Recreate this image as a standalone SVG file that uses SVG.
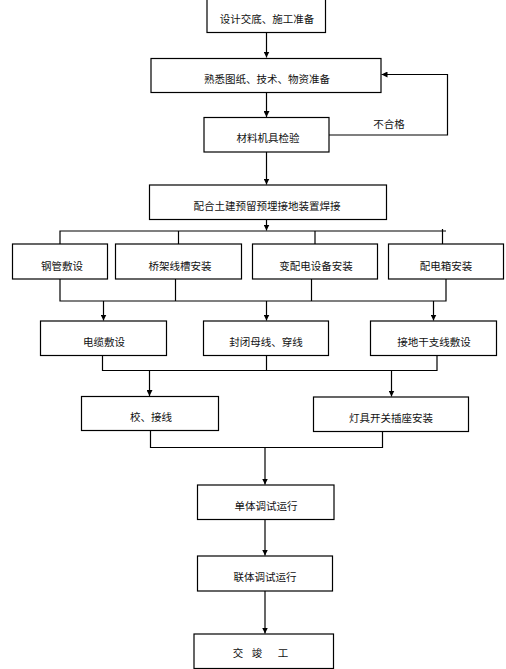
<svg xmlns="http://www.w3.org/2000/svg" width="506" height="669" viewBox="0 0 506 669">
<style>
.box{fill:#fff;stroke:#000;stroke-width:1.2}
.ln{fill:none;stroke:#000;stroke-width:1.2}
text{font-family:"Noto Sans CJK SC","Liberation Sans",sans-serif;font-size:10.5px;fill:#111;text-anchor:middle;dominant-baseline:central}
</style>
<defs>
<marker id="ah" viewBox="0 0 8 8" refX="8" refY="4" markerWidth="6" markerHeight="6" orient="auto" markerUnits="userSpaceOnUse">
<path d="M0,0 L8,4 L0,8 Z" fill="#000"/>
</marker>
</defs>
<rect width="506" height="669" fill="#fff"/>
<g id="connectors">
<path class="ln" d="M266.5,32.5 V57.5" marker-end="url(#ah)"/>
<path class="ln" d="M266.5,92.5 V117" marker-end="url(#ah)"/>
<path class="ln" d="M329,135 H447.5 V74.5 H381.5" marker-end="url(#ah)"/>
<path class="ln" d="M266.5,152 V184.5" marker-end="url(#ah)"/>
<path class="ln" d="M266.5,219.5 V230.5" marker-end="url(#ah)"/>
<path class="ln" d="M60,244 V231 H446"/>
<path class="ln" d="M178.5,231 V244"/>
<path class="ln" d="M315,231 V244"/>
<path class="ln" d="M442.5,229 V244"/>
<path class="ln" d="M60,279 V301 H446 V279"/>
<path class="ln" d="M175.5,279 V301"/>
<path class="ln" d="M311.5,279 V301"/>
<path class="ln" d="M103.5,301 V320.5" marker-end="url(#ah)"/>
<path class="ln" d="M266.5,301 V320.5" marker-end="url(#ah)"/>
<path class="ln" d="M433.5,301 V320.5" marker-end="url(#ah)"/>
<path class="ln" d="M102.5,355.5 V370.5 H437 V355.5"/>
<path class="ln" d="M266.5,355.5 V370.5"/>
<path class="ln" d="M149.5,370.5 V396" marker-end="url(#ah)"/>
<path class="ln" d="M391.5,370.5 V396.5" marker-end="url(#ah)"/>
<path class="ln" d="M150.5,430.5 V447.5 H382.5 V431.5"/>
<path class="ln" d="M265,447.5 V484.5" marker-end="url(#ah)"/>
<path class="ln" d="M265,519.5 V555.5" marker-end="url(#ah)"/>
<path class="ln" d="M265,591 V633.5" marker-end="url(#ah)"/>
</g>
<g id="n1"><rect class="box" x="207" y="-1" width="118.5" height="33.5"/><text x="267" y="18">设计交底、施工准备</text></g>
<g id="n2"><rect class="box" x="151" y="58.5" width="230" height="34"/><text x="267" y="78.5">熟悉图纸、技术、物资准备</text></g>
<g id="n3"><rect class="box" x="204" y="117.5" width="125" height="34.5"/><text x="268" y="137">材料机具检验</text></g>
<text x="389" y="123">不合格</text>
<g id="n4"><rect class="box" x="149.5" y="185" width="237" height="34.5"/><text x="267" y="205">配合土建预留预埋接地装置焊接</text></g>
<g id="n5"><rect class="box" x="12.5" y="244" width="95" height="35"/><text x="62" y="265">钢管敷设</text></g>
<g id="n6"><rect class="box" x="115.5" y="244" width="126" height="35"/><text x="180" y="265">桥架线槽安装</text></g>
<g id="n7"><rect class="box" x="252.5" y="244" width="125" height="35"/><text x="316" y="265">变配电设备安装</text></g>
<g id="n8"><rect class="box" x="388.5" y="244" width="115" height="35"/><text x="446" y="265">配电箱安装</text></g>
<g id="n9"><rect class="box" x="40.5" y="321" width="126" height="34.5"/><text x="104" y="341.5">电缆敷设</text></g>
<g id="n10"><rect class="box" x="203.5" y="321" width="125" height="34.5"/><text x="266" y="341.5">封闭母线、穿线</text></g>
<g id="n11"><rect class="box" x="370.5" y="321" width="126" height="34.5"/><text x="434" y="341.5">接地干支线敷设</text></g>
<g id="n12"><rect class="box" x="81.5" y="396.5" width="137" height="34"/><text x="151" y="416.5">校、接线</text></g>
<g id="n13"><rect class="box" x="313.5" y="397" width="155" height="34.5"/><text x="391" y="417">灯具开关插座安装</text></g>
<g id="n14"><rect class="box" x="197.5" y="485" width="136.5" height="34.5"/><text x="266" y="505">单体调试运行</text></g>
<g id="n15"><rect class="box" x="197.5" y="556" width="135" height="35"/><text x="265" y="576">联体调试运行</text></g>
<g id="n16"><rect class="box" x="194" y="634" width="139.5" height="34.5"/><text x="262" y="652"><tspan x="238">交</tspan><tspan x="257">竣</tspan><tspan x="283">工</tspan></text></g>
</svg>
